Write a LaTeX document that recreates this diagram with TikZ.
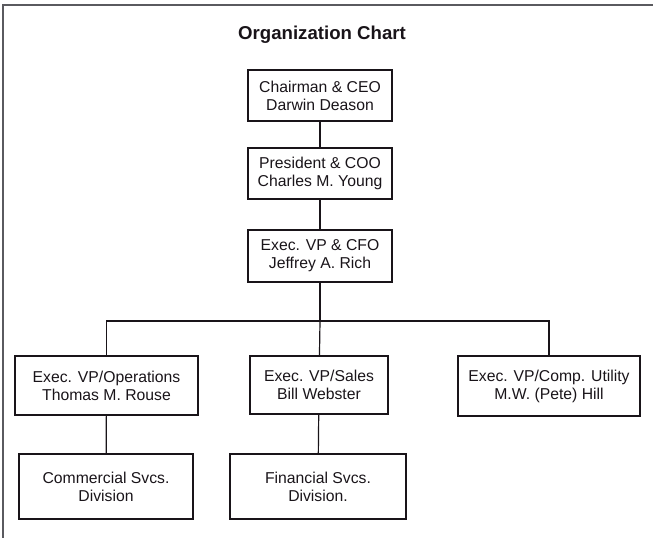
\documentclass[tikz,border=0pt]{standalone}
\usepackage{fontspec}
\setmainfont{Liberation Sans}
\usepackage{tikz}
\usetikzlibrary{positioning}
\definecolor{framegray}{RGB}{90, 90, 95}
\definecolor{inkblack}{RGB}{25, 20, 25}

\begin{document}
\begin{tikzpicture}[
    x=1bp, y=-1bp,
    orgbox/.style={rectangle, draw=inkblack, line width=1.2pt, minimum width=#1, align=center, inner sep=0pt, font=\fontsize{15.8}{18.2}\selectfont, text=inkblack},
    link/.style={draw=inkblack, line width=1.2pt}
]
\useasboundingbox (0,0) rectangle (653,538);
\draw[framegray, line width=1.2pt] (3,538) -- (3,5) -- (653,5);
\node[font=\fontsize{18.7}{22}\selectfont\bfseries, text=inkblack] (title) at (322,35) {Organization Chart};
\node[orgbox=144bp, minimum height=51bp] (ceo) at (320,95.5) {Chairman \& CEO\\Darwin Deason};
\node[orgbox=144bp, minimum height=51bp] (coo) at (320,173.5) {President \& COO\\Charles M. Young};
\node[orgbox=144bp, minimum height=52bp] (cfo) at (320,256) {Exec. VP \& CFO\\Jeffrey A. Rich};
\coordinate (bar) at (320,321);
\node[orgbox=183bp, minimum height=59bp] (opsvp) at (106.5,385.5) {Exec. VP/Operations\\Thomas M. Rouse};
\node[orgbox=138bp, minimum height=58bp] (salesvp) at (319,385) {Exec. VP/Sales\\Bill Webster};
\node[orgbox=182bp, minimum height=60bp] (utilvp) at (549,386) {Exec. VP/Comp. Utility\\M.W. (Pete) Hill};
\node[orgbox=174bp, minimum height=65bp] (commdiv) at (106,486.5) {Commercial Svcs.\\Division};
\node[orgbox=176bp, minimum height=65bp] (findiv) at (318,486.5) {Financial Svcs.\\Division.};
\draw[link] (ceo) -- (coo);
\draw[link] (coo) -- (cfo);
\draw[link] (cfo) -- (bar);
\draw[link] (opsvp) |- (bar) -| (utilvp);
\draw[link] (bar) -- (salesvp);
\draw[link] (opsvp) -- (commdiv);
\draw[link] (salesvp) -- (findiv);
\end{tikzpicture}
\end{document}
